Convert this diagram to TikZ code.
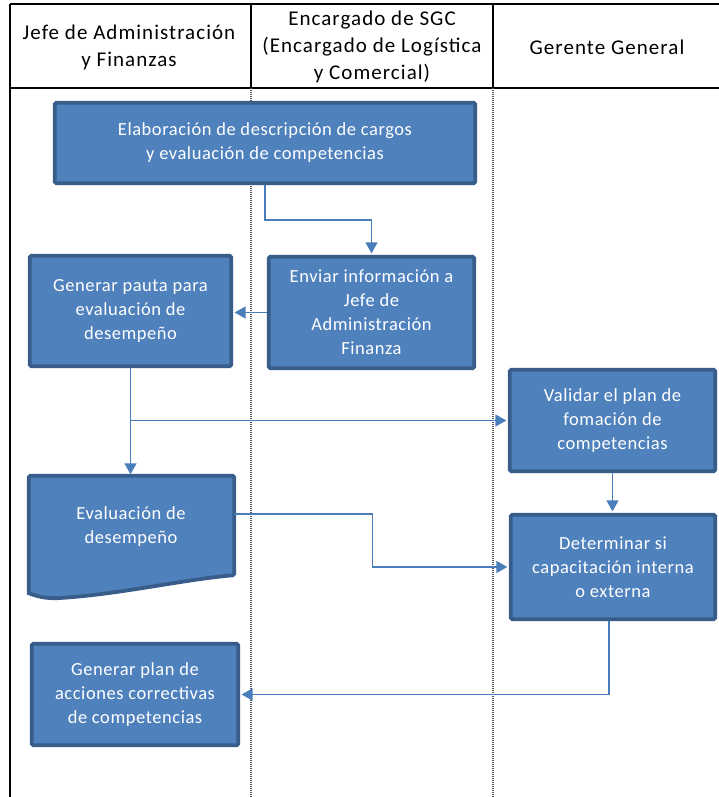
\documentclass[tikz,border=0pt]{standalone}
\usepackage{fontspec}
\setmainfont{Carlito}
\newfontfamily\headfont{Carlito}[LetterSpace=5]
\newfontfamily\boxfont{Carlito}[LetterSpace=3]
\usetikzlibrary{arrows.meta,calc}
\definecolor{boxfill}{HTML}{4F81BD}
\definecolor{boxline}{HTML}{385D8A}
\definecolor{flow}{HTML}{4A7EBB}
\definecolor{lanesep}{HTML}{555555}

\begin{document}
\begin{tikzpicture}[x=1pt,y=-1pt,
  stepbox/.style={draw=boxline, line width=3.8pt, fill=boxfill, rounded corners=1.5pt,
    text=white, align=center, inner sep=0pt, font=\boxfont\fontsize{18.5}{24}\selectfont},
  flowline/.style={draw=flow, line width=1.4pt, shorten >=1.5pt,
    -{Triangle[length=11pt,width=12pt]}},
  headtext/.style={align=center, font=\headfont\fontsize{21}{27}\selectfont},
  frameline/.style={line width=2.5pt, black},
  laneline/.style={lanesep, line width=1.8pt, dash pattern=on 1pt off 1pt}
]
\useasboundingbox (0,0) rectangle (719,797);
\fill[white] (0,0) rectangle (719,797);

% pool frame and lane headers
\draw[frameline] (10,4) -- (719,4);
\draw[frameline] (10,88) -- (719,88);
\draw[frameline] (10,4) -- (10,797);
\draw[frameline] (251,4) -- (251,88);
\draw[frameline] (493,4) -- (493,88);
\draw[laneline] (251,88) -- (251,797);
\draw[laneline] (493,88) -- (493,797);

\node[headtext] (h1) at (129,47) {Jefe de Administración\\y Finanzas};
\node[headtext] (h2) at (372,47) {Encargado de SGC\\(Encargado de Logística\\y Comercial)};
\node[headtext] (h3) at (607,47) {Gerente General};

% process steps
\node[stepbox, minimum width=420.5pt, minimum height=80.5pt] (b1) at (265,143)
  {Elaboración de descripción de cargos\\y evaluación de competencias};
\node[stepbox, minimum width=201.5pt, minimum height=110.5pt] (b2) at (130.5,311)
  {Generar pauta para\\evaluación de\\desempeño};
\node[stepbox, minimum width=205.5pt, minimum height=111.5pt] (b3) at (371.5,312.5)
  {Enviar información a\\Jefe de\\Administración\\Finanza};
\node[stepbox, minimum width=205.5pt, minimum height=101.5pt] (b4) at (612.5,420.5)
  {Validar el plan de\\fomación de\\competencias};
\node[stepbox, minimum width=204.5pt, minimum height=104.5pt] (b6) at (613,567)
  {Determinar si\\capacitación interna\\o externa};
\node[stepbox, minimum width=206.5pt, minimum height=101.5pt] (b7) at (135,694.5)
  {Generar plan de\\acciones correctivas\\de competencias};

% document step with a wavy lower edge
\node[minimum width=205pt, minimum height=100pt, inner sep=0pt] (b5) at (131.5,526) {};
\draw[boxline, line width=3.8pt, fill=boxfill, rounded corners=1.5pt]
  (b5.north west) -- (b5.north east) -- ([yshift=1pt]b5.south east)
  [rounded corners=0pt]
  .. controls +(-50,4) and +(60,-3) .. ($(b5.south west)+(27,22)$)
  .. controls +(-12,0) and +(8,3) .. ($(b5.south west)+(0,17)$)
  [rounded corners=1.5pt] -- cycle;
\node[text=white, align=center, font=\boxfont\fontsize{18.5}{24}\selectfont] (t5) at (131,527)
  {Evaluación de\\desempeño};

% flow connectors
\draw[flowline] (b1.south) -- ++(0,35) -| (b3.north);
\draw[flowline] (b3.west) -- (b3.west -| b2.east);
\draw[flowline] (b2.south) -- (b2.south |- b5.north);
\coordinate (split) at (b2.south |- b4.west);
\draw[flowline] (split) -- (b4.west);
\draw[flowline] (b4.south) -- (b4.south |- b6.north);
\draw[flowline] ([yshift=12pt]b5.east) -- ++(138,0) |- (b6.west);
\draw[flowline] ([xshift=-4pt]b6.south) |- (b7.east);
\end{tikzpicture}
\end{document}
